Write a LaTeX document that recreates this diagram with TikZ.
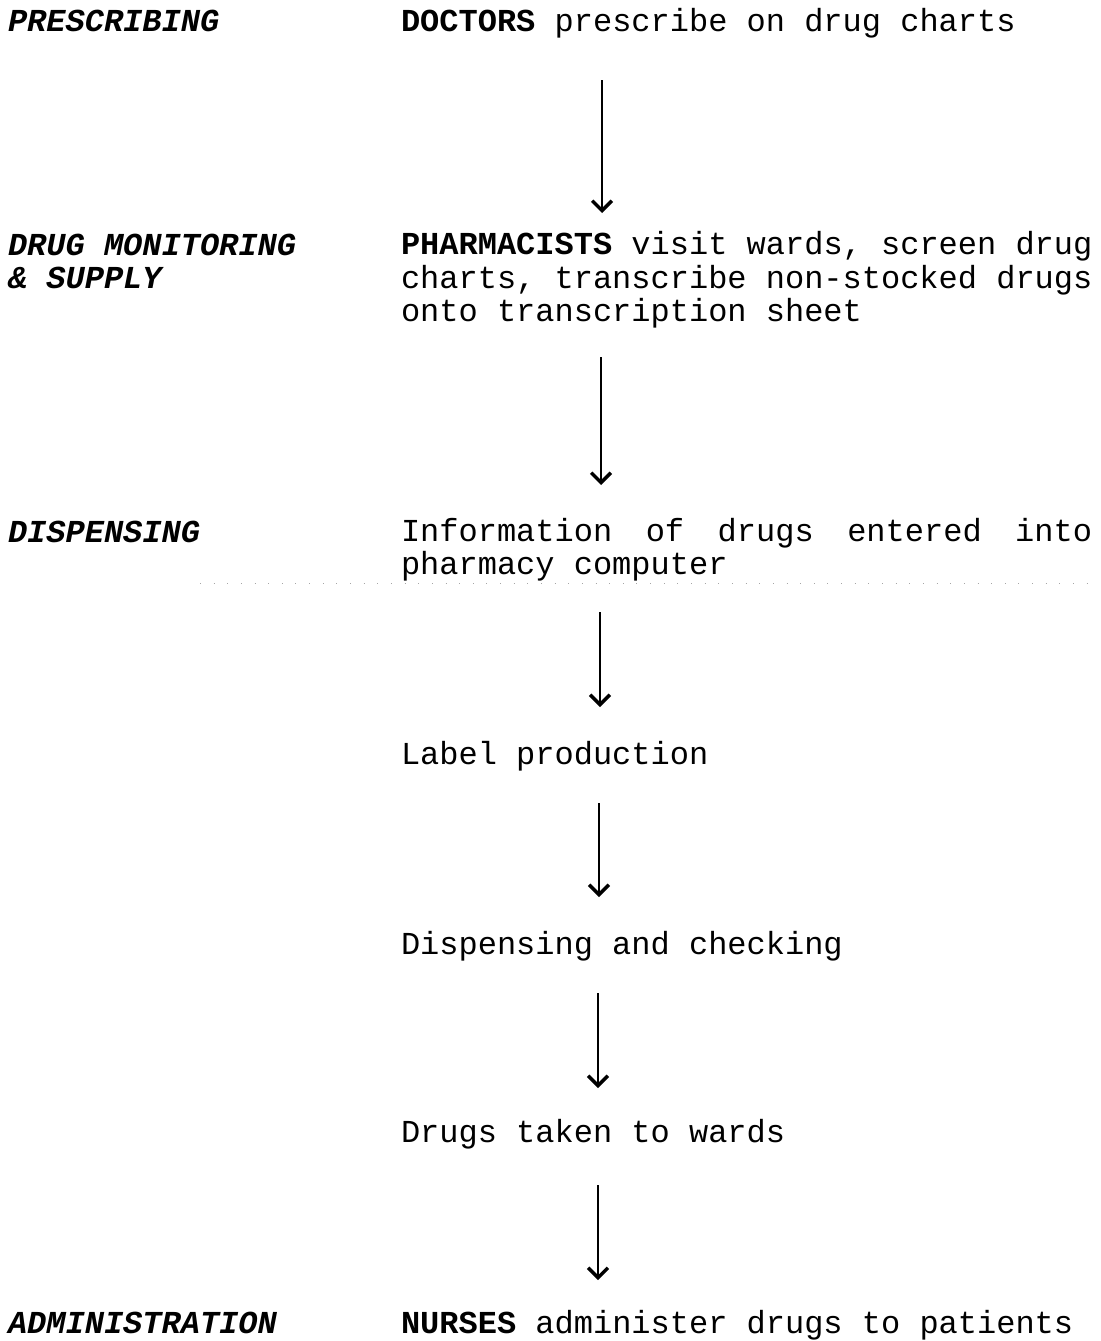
\documentclass[tikz,border=0pt]{standalone}
\usepackage{fontspec}
\setmonofont{Liberation Mono}
\usetikzlibrary{arrows.meta}
\begin{document}
\begin{tikzpicture}[x=0.025cm,y=-0.025cm,
  txt/.style={anchor=base west,inner sep=0pt,outer sep=0pt,align=left,
    font=\fontsize{22.76pt}{23.47pt}\selectfont\ttfamily},
  stage/.style={txt,font=\fontsize{22.76pt}{23.47pt}\selectfont\ttfamily\bfseries\itshape},
  flow/.style={line width=1.5pt,-{Straight Barb[length=7pt,width=14pt,line width=2.4pt]}}]
\useasboundingbox (0,0) rectangle (1100,1341);

% stage labels on the left (multi-line nodes are placed by their last baseline)
\node[stage] (prescribing) at (8,31) {PRESCRIBING};
\node[stage] (monitoring) at (8,288) {DRUG MONITORING\\\& SUPPLY};
\node[stage] (dispensing) at (8,542) {DISPENSING};
\node[stage] (administration) at (8,1333) {ADMINISTRATION};

% process steps
\node[txt] (doctors) at (401,31) {\textbf{DOCTORS} prescribe on drug charts};
\node[txt] (pharmacists) at (401,321) {\textbf{PHARMACISTS} visit wards, screen drug\\charts, transcribe non-stocked drugs\\onto transcription sheet};
\node[txt] (info) at (401,574) {\makebox[491.5pt][l]{Information\hfill of\hfill drugs\hfill entered\hfill into}\\pharmacy computer};
\node[txt] (label) at (401,764) {Label production};
\node[txt] (checking) at (401,954) {Dispensing and checking};
\node[txt] (wards) at (401,1142) {Drugs taken to wards};
\node[txt] (nurses) at (401,1333) {\textbf{NURSES} administer drugs to patients};

% faint dotted rule under the dispensing entry
\draw[gray!70,line width=0.7pt,dash pattern=on 0.7pt off 9pt] (200,583) -- (1100,583);

% arrow end points
\coordinate (s1) at (602,80);   \coordinate (e1) at (602,213);
\coordinate (s2) at (601,357);  \coordinate (e2) at (601,485);
\coordinate (s3) at (600,612);  \coordinate (e3) at (600,707);
\coordinate (s4) at (599,803);  \coordinate (e4) at (599,897);
\coordinate (s5) at (598,993);  \coordinate (e5) at (598,1088);
\coordinate (s6) at (598,1185); \coordinate (e6) at (598,1280);

\draw[flow] (s1) -- (e1);
\draw[flow] (s2) -- (e2);
\draw[flow] (s3) -- (e3);
\draw[flow] (s4) -- (e4);
\draw[flow] (s5) -- (e5);
\draw[flow] (s6) -- (e6);
\end{tikzpicture}
\end{document}
